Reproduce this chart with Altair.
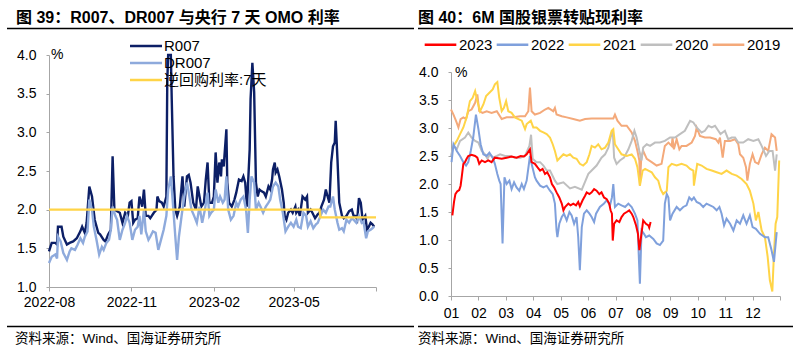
import json
import altair as alt
import pandas as pd

FONT = "Liberation Sans, Arial, Noto Sans CJK SC, sans-serif"
AXIS_GRAY = "#a6a6a6"

# ------------------------------------------------------------------ left panel data
LEFT_START = "2022-08-01"
# (days after 2022-08-01, rate %)
r007 = [(0,1.46),(3,1.57),(7,1.57),(9,1.55),(10,1.78),(14,1.78),(16,1.65),(20,1.55),(23,1.57),(27,1.59),
        (31,1.63),(35,1.72),(37,1.78),(40,1.70),(42,1.83),(45,2.30),(48,2.17),(51,1.87),(55,1.70),(57,1.68),
        (61,1.61),(63,1.59),(66,1.68),(69,1.74),(71,2.69),(73,2.00),(76,1.98),(79,1.96),(82,1.83),(85,1.96),
        (88,1.92),(90,2.09),(92,2.11),(94,1.83),(96,1.87),(99,1.89),(101,2.17),(104,2.04),(106,2.26),(108,1.92),
        (111,1.92),(113,1.89),(117,1.96),(120,2.00),(121,2.17),(123,2.11),(126,2.09),(128,2.04),(131,2.17),(132,3.65),
        (133,4.00),(136,4.00),(137,3.43),(139,2.43),(141,2.00),(143,1.92),(146,2.04),(149,2.43),(151,2.04),(154,2.43),
        (156,2.45),(158,2.35),(161,2.09),(164,2.00),(166,2.30),(170,2.04),(173,2.09),(175,2.39),(177,2.61),(179,2.09),
        (182,2.09),(184,2.17),(186,2.74),(188,2.35),(190,2.61),(192,2.43),(193,2.65),(195,2.56),(198,3.04),(199,2.35),
        (201,2.09),(204,2.04),(207,2.13),(209,2.22),(212,2.39),(215,2.37),(217,2.43),(219,2.35),(221,2.04),(224,2.78),
        (225,3.43),(227,3.90),(229,3.52),(231,2.35),(233,2.17),(235,2.26),(237,2.24),(240,2.22),(242,2.17),(245,2.30),
        (247,2.26),(249,2.39),(250,2.52),(252,2.61),(253,2.48),(255,2.52),(257,2.43),(260,2.26),(262,2.09),(263,1.92),
        (265,1.87),(267,1.96),(270,2.00),(272,1.96),(275,2.04),(276,1.96),(278,2.00),(280,1.92),(283,2.17),(286,2.13),
        (288,2.17),(289,1.96),(292,2.00),(294,1.96),(297,1.89),(300,1.94),(302,1.96),(304,2.04),(307,2.13),(309,2.26),
        (311,2.17),(313,2.09),(315,2.61),(317,2.82),(319,2.87),(320,3.15),(322,2.65),(324,2.09),(327,1.92),(329,1.89),
        (332,1.92),(335,1.98),(338,2.00),(340,1.92),(342,1.92),(344,1.87),(346,2.15),(348,2.09),(350,1.87),(353,1.92),
        (355,1.74),(357,1.78),(359,1.83),(361,1.81),(363,1.78)]
dr007 = [(0,1.31),(3,1.39),(7,1.42),(9,1.37),(10,1.65),(13,1.59),(16,1.44),(20,1.35),(23,1.46),(25,1.50),
         (29,1.48),(32,1.55),(35,1.63),(38,1.57),(40,1.65),(43,1.72),(45,2.13),(48,2.00),(50,1.78),(53,1.61),
         (56,1.42),(59,1.52),(61,1.48),(64,1.57),(67,1.61),(69,1.74),(71,2.04),(74,1.92),(76,1.87),(79,1.61),
         (82,1.74),(85,1.83),(87,1.92),(90,1.83),(93,1.61),(96,1.74),(99,1.78),(101,1.92),(103,1.68),(106,2.00),
         (108,1.72),(111,1.61),(113,1.65),(116,1.72),(119,1.70),(122,1.48),(125,1.61),(128,1.74),(131,1.92),(133,2.26),
         (136,2.43),(138,2.13),(141,1.65),(143,1.35),(145,1.65),(148,1.92),(151,2.17),(154,2.35),(156,2.22),(159,2.00),
         (162,1.92),(165,1.83),(168,2.04),(171,1.83),(174,2.00),(177,2.22),(179,1.92),(181,1.96),(184,2.00),(186,2.26),
         (189,2.09),(191,2.17),(194,2.09),(196,2.13),(198,2.43),(200,2.00),(203,1.87),(206,1.92),(209,2.09),(211,2.04),
         (214,2.13),(217,2.17),(220,2.00),(222,1.70),(224,2.13),(226,2.43),(229,2.35),(231,2.00),(234,2.09),(236,2.04),
         (239,1.96),(242,2.04),(245,2.09),(247,2.13),(250,2.30),(253,2.35),(256,2.30),(258,2.13),(261,1.96),(264,1.72),
         (267,1.78),(270,1.83),(273,1.78),(276,1.87),(278,1.78),(281,1.76),(284,1.96),(287,1.92),(289,1.78),(292,1.85),
         (295,1.76),(298,1.81),(300,1.83),(303,1.92),(306,2.00),(309,1.96),(312,2.04),(314,2.04),(317,2.17),(319,2.00),
         (322,1.83),(324,1.74),(327,1.76),(329,1.72),(332,1.87),(335,1.83),(338,1.89),(340,1.87),(343,1.83),(346,1.92),
         (349,1.83),(351,1.85),(354,1.63),(356,1.72),(359,1.74),(361,1.76),(363,1.78)]
omo = [(0,2.0),(302,2.0),(303,1.9),(365,1.9)]
left_series = ["R007", "DR007", "逆回购利率:7天"]
left_colors = ["#0c1f66", "#8eaadc", "#ffd447"]
left_xticks = ["2022-08", "2022-11", "2023-02", "2023-05", "2023-08"]
left_yticks = [1.0, 1.5, 2.0, 2.5, 3.0, 3.5, 4.0]

# ------------------------------------------------------------------ right panel data
# (position in months from 1 Jan, rate %)
y2019 = [(0.00,3.33),(0.09,3.24),(0.18,3.13),(0.27,3.01),(0.35,3.16),(0.45,3.19),(0.55,3.16),(0.63,3.30),(0.75,3.33),
         (0.88,3.45),(0.96,3.60),(1.03,3.30),(1.15,3.27),(1.30,3.30),(1.48,3.27),(1.67,3.30),(1.85,3.16),(2.03,3.19),
         (2.27,3.19),(2.52,3.21),(2.70,3.21),(2.82,3.30),(2.88,3.72),(2.94,3.30),(3.06,3.24),(3.25,3.27),(3.43,3.33),
         (3.55,3.36),(3.73,3.30),(3.79,3.36),(3.85,3.24),(4.04,3.21),(4.22,3.19),(4.46,3.16),(4.70,3.13),(4.89,3.16),
         (5.13,3.17),(5.43,3.17),(5.74,3.17),(5.92,3.17),(5.98,3.24),(6.07,3.13),(6.22,3.04),(6.41,3.04),(6.59,2.92),
         (6.71,2.77),(6.80,2.59),(6.87,2.42),(6.89,1.97),(6.94,2.47),(7.01,2.59),(7.14,2.45),(7.32,2.39),(7.50,2.33),
         (7.68,2.36),(7.80,2.68),(7.93,2.74),(8.05,2.68),(8.08,2.83),(8.13,2.62),(8.23,2.80),(8.33,2.62),(8.41,2.68),
         (8.59,2.68),(8.78,2.74),(8.90,2.86),(8.96,3.01),(9.08,2.86),(9.26,2.83),(9.45,2.83),(9.66,2.80),(9.75,2.74),
         (9.81,2.83),(9.91,2.47),(9.99,2.77),(10.18,2.77),(10.36,2.80),(10.48,2.71),(10.54,2.53),(10.66,2.47),
         (10.76,2.30),(10.81,2.06),(10.90,2.36),(11.00,2.53),(11.09,2.39),(11.21,2.36),(11.33,2.53),(11.45,2.65),
         (11.57,2.59),(11.69,2.89),(11.82,2.83),(11.88,2.59)]
y2020 = [(0.00,2.50),(0.09,2.68),(0.21,2.62),(0.33,2.77),(0.51,2.83),(0.63,2.92),(0.75,2.83),(0.88,2.77),(1.00,2.74),
         (1.12,2.59),(1.24,2.53),(1.33,2.45),(1.42,2.53),(1.54,2.47),(1.67,2.50),(1.79,2.53),(1.97,2.50),(2.15,2.50),
         (2.33,2.47),(2.52,2.47),(2.70,2.50),(2.86,2.68),(2.92,2.88),(2.98,2.45),(3.12,2.39),(3.25,2.39),(3.37,2.33),
         (3.49,2.24),(3.61,2.24),(3.73,2.12),(3.79,2.06),(3.88,2.00),(4.10,2.03),(4.34,1.92),(4.52,1.95),(4.77,1.90),
         (5.01,2.18),(5.13,2.24),(5.31,2.33),(5.49,2.47),(5.62,2.53),(5.74,2.65),(5.82,2.83),(5.90,2.95),(5.95,2.47),
         (6.04,2.36),(6.16,2.42),(6.31,2.47),(6.47,2.62),(6.59,2.77),(6.69,2.95),(6.77,2.83),(6.87,2.59),(6.95,2.42),
         (7.01,2.65),(7.14,2.71),(7.26,2.68),(7.44,2.74),(7.62,2.74),(7.80,2.77),(7.99,2.83),(8.17,2.83),(8.35,2.89),
         (8.53,2.95),(8.72,3.13),(8.84,3.10),(8.96,3.01),(9.14,2.92),(9.26,2.95),(9.39,3.04),(9.51,3.01),(9.63,3.04),
         (9.75,2.95),(9.83,2.89),(9.99,2.95),(10.11,2.80),(10.24,2.83),(10.36,2.83),(10.48,2.74),(10.66,2.74),
         (10.84,2.80),(11.03,2.77),(11.21,2.80),(11.33,2.68),(11.49,2.50),(11.61,2.59),(11.73,2.59),(11.82,2.24),
         (11.88,2.53)]
y2021 = [(0.09,2.68),(0.21,2.77),(0.33,2.89),(0.45,3.01),(0.57,3.19),(0.69,3.48),(0.79,3.54),(0.88,3.66),(0.96,3.48),
         (1.06,3.30),(1.18,3.42),(1.28,3.57),(1.40,3.63),(1.52,3.69),(1.60,3.78),(1.69,3.82),(1.76,3.54),(1.85,3.30),
         (1.93,3.36),(2.01,3.48),(2.09,3.30),(2.21,3.27),(2.33,3.19),(2.46,3.16),(2.58,3.13),(2.70,2.98),(2.76,3.07),
         (2.91,3.13),(3.00,3.01),(3.12,3.01),(3.25,2.95),(3.37,2.92),(3.49,2.89),(3.61,2.83),(3.71,2.71),(3.79,2.59),
         (3.88,2.42),(4.10,2.53),(4.22,2.50),(4.34,2.53),(4.46,2.47),(4.58,2.45),(4.70,2.36),(4.82,2.33),(4.95,2.39),
         (5.05,2.53),(5.13,2.68),(5.25,2.65),(5.37,2.71),(5.49,2.62),(5.62,2.65),(5.74,2.74),(5.86,2.95),(5.92,2.98),
         (5.98,2.71),(6.10,2.62),(6.22,2.53),(6.41,2.50),(6.59,2.53),(6.71,2.45),(6.80,2.30),(6.89,1.97),(6.99,2.24),
         (7.08,2.27),(7.20,2.24),(7.32,2.21),(7.44,2.12),(7.56,2.06),(7.65,1.90),(7.74,1.82),(7.87,1.88),(7.93,2.30),
         (8.05,2.36),(8.23,2.33),(8.41,2.36),(8.59,2.33),(8.72,2.27),(8.84,2.24),(8.86,1.97),(8.98,2.36),(9.14,2.33),
         (9.32,2.27),(9.51,2.24),(9.69,2.21),(9.87,2.18),(10.05,2.24),(10.24,2.18),(10.42,2.15),(10.60,2.09),
         (10.78,2.00),(10.90,1.88),(11.03,1.65),(11.12,1.35),(11.21,1.50),(11.33,1.17),(11.45,1.05),(11.55,0.70),
         (11.63,0.28),(11.72,0.08),(11.78,0.76),(11.84,1.29),(11.90,1.41),(11.97,2.42)]
y2022 = [(0.02,2.39),(0.09,2.71),(0.21,2.59),(0.33,2.50),(0.45,2.39),(0.55,2.33),(0.63,2.39),(0.72,2.59),(0.81,2.83),
         (0.91,3.24),(1.00,2.98),(1.08,2.71),(1.18,2.53),(1.30,2.50),(1.40,2.56),(1.52,2.47),(1.60,2.36),(1.69,2.18),
         (1.76,2.06),(1.81,2.00),(1.88,0.94),(1.95,2.12),(2.03,2.00),(2.13,2.06),(2.21,1.91),(2.30,2.03),(2.39,1.94),
         (2.49,1.88),(2.58,2.00),(2.66,1.91),(2.76,2.06),(2.88,2.50),(2.94,2.36),(3.06,2.12),(3.12,2.06),(3.25,1.97),
         (3.37,1.94),(3.49,1.97),(3.61,1.88),(3.71,1.82),(3.79,1.65),(3.85,1.17),(3.88,1.05),(3.95,1.29),(4.04,1.41),
         (4.12,1.47),(4.22,1.35),(4.32,1.50),(4.40,1.44),(4.49,1.29),(4.58,1.41),(4.64,1.05),(4.70,0.46),(4.77,1.23),
         (4.85,1.47),(4.95,1.53),(5.05,1.47),(5.13,1.41),(5.22,1.32),(5.29,1.47),(5.43,1.59),(5.58,1.65),(5.68,1.71),
         (5.80,1.62),(5.87,1.76),(5.92,2.00),(5.98,1.59),(6.10,1.65),(6.22,1.62),(6.35,1.59),(6.47,1.65),(6.59,1.59),
         (6.71,1.47),(6.80,1.35),(6.86,0.58),(6.89,0.22),(6.95,1.17),(7.04,1.11),(7.11,1.05),(7.23,1.08),(7.38,1.02),
         (7.50,0.94),(7.62,0.91),(7.74,0.99),(7.80,1.65),(7.87,1.82),(7.93,1.76),(7.99,1.35),(8.08,1.47),(8.23,1.59),
         (8.35,1.53),(8.47,1.59),(8.59,1.62),(8.69,1.76),(8.78,1.71),(8.86,1.76),(8.96,1.68),(9.08,1.65),(9.20,1.59),
         (9.32,1.65),(9.45,1.62),(9.57,1.59),(9.69,1.53),(9.79,1.59),(9.87,1.47),(9.96,1.26),(10.05,1.38),(10.18,1.29),
         (10.30,1.17),(10.42,1.35),(10.54,1.29),(10.66,1.44),(10.78,1.29),(10.90,1.44),(11.00,1.23),(11.12,1.20),
         (11.27,1.11),(11.45,1.05),(11.57,1.05),(11.69,0.82),(11.78,0.61),(11.88,1.14)]
y2023 = [(0.05,1.44),(0.11,1.68),(0.16,1.82),(0.23,1.87),(0.30,1.89),(0.35,1.97),(0.39,2.12),(0.45,2.36),(0.51,2.39),
         (0.57,2.45),(0.63,2.50),(0.75,2.52),(0.88,2.50),(0.96,2.47),(1.03,2.36),(1.12,2.42),(1.24,2.39),(1.36,2.42),
         (1.48,2.39),(1.60,2.47),(1.73,2.46),(1.85,2.45),(2.03,2.47),(2.21,2.49),(2.39,2.47),(2.54,2.50),(2.66,2.49),
         (2.76,2.53),(2.88,2.62),(2.94,2.39),(3.06,2.36),(3.15,2.30),(3.25,2.24),(3.34,2.27),(3.43,2.18),(3.51,2.21),
         (3.61,2.12),(3.68,2.00),(3.76,1.94),(3.85,1.85),(3.95,1.76),(4.04,1.65),(4.10,1.53),(4.16,1.59),(4.28,1.65),
         (4.36,1.62),(4.46,1.65),(4.56,1.62),(4.64,1.68),(4.70,1.60),(4.80,1.71),(4.89,1.79),(4.95,1.85),(5.05,1.82),
         (5.13,1.85),(5.22,1.91),(5.31,1.88),(5.41,1.82),(5.49,1.85),(5.58,1.76),(5.68,1.73),(5.77,1.65),(5.82,1.53),
         (5.87,1.47),(5.90,0.99),(5.95,1.29),(6.04,1.35),(6.14,1.32),(6.22,1.41),(6.31,1.47),(6.41,1.50),(6.50,1.53),
         (6.59,1.47),(6.65,1.41),(6.75,1.26),(6.82,1.11),(6.87,0.82),(7.01,1.35),(7.11,1.29),(7.20,1.26),(7.23,1.22),
         (7.28,1.32)]
right_series = ["2023", "2022", "2021", "2020", "2019"]
right_colors = ["#ff0000", "#7fa0dc", "#ffd447", "#bfbfbf", "#f4a97a"]
right_data = {"2019": y2019, "2020": y2020, "2021": y2021, "2022": y2022, "2023": y2023}
month_labels = ["01", "02", "03", "04", "05", "06", "07", "08", "09", "10", "11", "12"]
right_yticks = [0.0, 0.5, 1.0, 1.5, 2.0, 2.5, 3.0, 3.5, 4.0]

# ------------------------------------------------------------------ texts
title_left = "图 39：R007、DR007 与央行 7 天 OMO 利率"
title_right = "图 40：6M 国股银票转贴现利率"
source_text = "资料来源：Wind、国海证券研究所"
unit_text = "%"


def dt(s):
    y, m = s.split("-")
    return alt.DateTime(year=int(y), month=int(m), date=1)


def left_df(pairs, name):
    start = pd.Timestamp(LEFT_START)
    return pd.DataFrame({
        "date": [start + pd.Timedelta(days=d) for d, _ in pairs],
        "value": [v for _, v in pairs],
        "series": name,
    })


axis_common = dict(grid=False, title=None, domainColor=AXIS_GRAY, tickColor=AXIS_GRAY,
                   labelColor="#000000", labelFont=FONT, labelFontSize=14,
                   labelFlush=False, labelOverlap=False, labelBound=False)

# ------------------------------------------------------------------ left panel
lx = alt.X("date:T",
           scale=alt.Scale(domain=[dt(left_xticks[0]), dt(left_xticks[-1])], range=[49, 376], nice=False),
           axis=alt.Axis(orient="bottom", offset=-63, values=[dt(t) for t in left_xticks],
                         labelExpr=f"timeFormat(datum.value, '%Y-%m') == '{left_xticks[-1]}' ? '' : timeFormat(datum.value, '%Y-%m')",
                         tickSize=4, labelPadding=4, **axis_common))
ly = alt.Y("value:Q",
           scale=alt.Scale(domain=[1, 4], range=[287, 55], nice=False, zero=False),
           axis=alt.Axis(orient="left", offset=-49, values=left_yticks, format=".1f",
                         tickSize=3, labelPadding=10, **axis_common))
lcolor = alt.Color("series:N", scale=alt.Scale(domain=left_series, range=left_colors), legend=None)

left_layers = []
for pairs, name in [(r007, left_series[0]), (dr007, left_series[1]), (omo, left_series[2])]:
    left_layers.append(
        alt.Chart(left_df(pairs, name)).mark_line(strokeWidth=2.4, clip=False)
        .encode(x=lx, y=ly, color=lcolor)
    )
left = alt.layer(*left_layers)

# ------------------------------------------------------------------ right panel
rx = alt.X("m:Q",
           scale=alt.Scale(domain=[0, 12], range=[451, 780], nice=False, zero=False),
           axis=alt.Axis(orient="bottom", offset=-54, values=list(range(13)),
                         labelExpr=json.dumps(month_labels + [""]) + "[datum.value]",
                         tickSize=4, labelPadding=6, **axis_common))
ry = alt.Y("value:Q",
           scale=alt.Scale(domain=[0, 4], range=[296, 72], nice=False, zero=False),
           axis=alt.Axis(orient="left", offset=-451, values=right_yticks, format=".1f",
                         tickSize=3, labelPadding=10, **axis_common))
rcolor = alt.Color("series:N",
                   scale=alt.Scale(domain=right_series, range=right_colors),
                   legend=alt.Legend(orient="none", legendX=423, legendY=27, direction="horizontal",
                                     title=None, symbolType="stroke", symbolSize=1000,
                                     symbolStrokeWidth=2.5, labelFont=FONT, labelFontSize=15,
                                     labelColor="#000000", labelOffset=1, columnPadding=-2, padding=0))

right_layers = []
for name in ["2019", "2020", "2021", "2022", "2023"]:
    pairs = right_data[name]
    df = pd.DataFrame({"m": [p[0] for p in pairs], "value": [p[1] for p in pairs], "series": name})
    right_layers.append(
        alt.Chart(df).mark_line(strokeWidth=2.0, clip=False).encode(x=rx, y=ry, color=rcolor)
    )
right = alt.layer(*right_layers)


# ------------------------------------------------------------------ decorations
def text_layer(txt, x, y, size, weight="normal", align="left", baseline="alphabetic"):
    return alt.Chart(pd.DataFrame({"t": [txt]})).mark_text(
        align=align, baseline=baseline, font=FONT, fontSize=size, fontWeight=weight, color="#000000"
    ).encode(text="t:N", x=alt.value(x), y=alt.value(y))


def hrule(x1, x2, y, color="#000000", width=1.3):
    return alt.Chart(pd.DataFrame({"a": [0]})).mark_rule(color=color, strokeWidth=width).encode(
        x=alt.value(x1), x2=alt.value(x2), y=alt.value(y))


# left legend (vertical, drawn inside the plot area)
left_legend = []
for i, (name, col) in enumerate(zip(left_series, left_colors)):
    row_y = 46 + 17 * i
    left_legend.append(hrule(130, 162, row_y, color=col, width=2.5))
    left_legend.append(text_layer(name, 164, row_y, 15, baseline="middle"))

decor = [
    text_layer(title_left, 16, 22.5, 16, "bold"),
    text_layer(title_right, 418, 22.5, 16, "bold"),
    hrule(7, 414, 28.5),
    hrule(418, 793, 28.5),
    hrule(7, 414, 326.5),
    hrule(418, 793, 326.5),
    text_layer(source_text, 15, 343, 13.5),
    text_layer(source_text, 418, 343, 13.5),
    text_layer(unit_text, 51, 55, 14, baseline="middle"),
    text_layer(unit_text, 455, 73, 14, baseline="middle"),
] + left_legend

chart = (
    alt.layer(left, right, *decor)
    .resolve_scale(x="independent", y="independent", color="independent")
    .properties(width=800, height=350, autosize=alt.AutoSizeParams(type="none"), padding=0,
                background="white")
    .configure_view(stroke=None)
)

chart.save("out.html", embed_options={"renderer": "svg", "actions": False})
